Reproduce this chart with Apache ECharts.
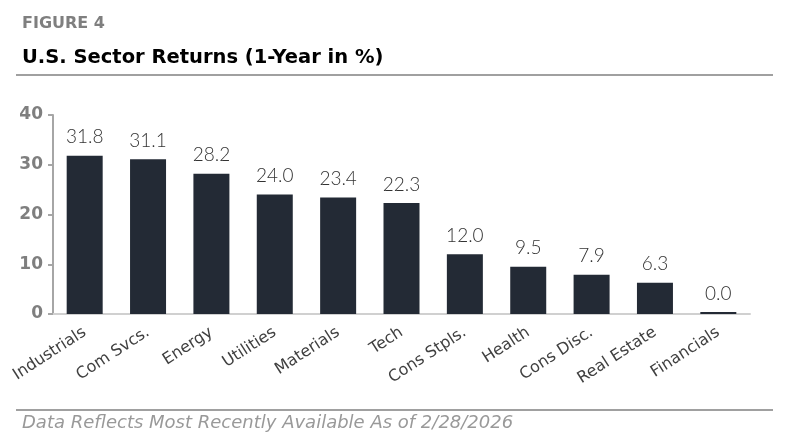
<!DOCTYPE html>
<html><head><meta charset="utf-8">
<script src="https://cdn.jsdelivr.net/npm/echarts@6/dist/echarts.min.js"></script>
<style>html,body{margin:0;padding:0;background:#fff}#c{width:786px;height:447px}</style>
</head><body><div id="c"></div>
<script>
const categories = ['Industrials','Com Svcs.','Energy','Utilities','Materials','Tech','Cons Stpls.','Health','Cons Disc.','Real Estate','Financials'];
const returns = [31.8, 31.1, 28.2, 24.0, 23.4, 22.3, 12.0, 9.5, 7.9, 6.3, 0.0];
const yTicks = [0, 10, 20, 30, 40];

const F = '"DejaVu Sans"';
const chart = echarts.init(document.getElementById('c'), null, {renderer:'canvas'});
chart.setOption({
  animation:false,
  backgroundColor:'#fff',
  grid:{left:53, right:36, top:115, bottom:133},
  graphic:[
    {type:'text', left:22, top:16, style:{text:'FIGURE 4', font:'bold 16px '+F, fill:'#7f7f7f'}},
    {type:'text', left:22, top:48, style:{text:'U.S. Sector Returns (1-Year in %)', font:'bold 19.5px '+F, fill:'#000'}},
    {type:'line', shape:{x1:16, y1:75, x2:773, y2:75}, style:{stroke:'#a0a0a0', lineWidth:2}},
    {type:'line', shape:{x1:16, y1:410, x2:773, y2:410}, style:{stroke:'#a0a0a0', lineWidth:2}},
    {type:'text', left:22, top:414, style:{text:'Data Reflects Most Recently Available As of 2/28/2026', font:'italic 18px '+F, fill:'#999'}}
  ],
  xAxis:{
    type:'category', data:categories,
    axisLine:{lineStyle:{color:'#d0d0d0', width:2}},
    axisTick:{show:false},
    axisLabel:{rotate:33, interval:0, color:'#404040', fontSize:16, fontFamily:F, margin:17}
  },
  yAxis:{
    type:'value', min:0, max:40, interval:10,
    splitLine:{show:false},
    axisLine:{show:true, lineStyle:{color:'#a6a6a6', width:2}},
    axisTick:{show:true, length:5, lineStyle:{color:'#a6a6a6', width:2}},
    axisLabel:{color:'#7f7f7f', fontSize:17, fontWeight:'bold', fontFamily:F, margin:10,
      formatter:v=>yTicks.includes(v)?String(v):''}
  },
  series:[{
    type:'bar', data:returns, barWidth:36, barMinHeight:2,
    itemStyle:{color:'#232a35'},
    label:{show:true, position:'top', distance:9, color:'#333', fontSize:19, fontFamily:'Lato', fontWeight:300,
      formatter:p=>p.value.toFixed(1)}
  }]
});
</script></body></html>
